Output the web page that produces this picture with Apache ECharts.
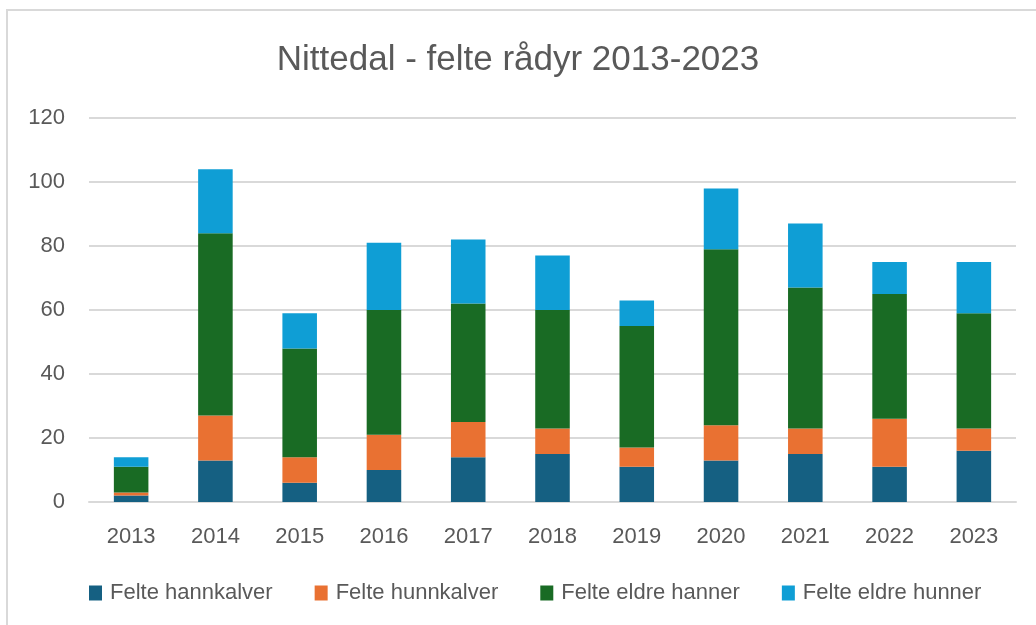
<!DOCTYPE html>
<html>
<head>
<meta charset="utf-8">
<script src="https://cdn.jsdelivr.net/npm/echarts@6/dist/echarts.min.js"></script>
<style>
  html, body { margin: 0; padding: 0; background: #fff; }
  #frame {
    position: absolute; left: 6px; top: 9px; width: 1040px; height: 630px;
    border-left: 2px solid #d9d9d9; border-top: 2px solid #d9d9d9;
  }
  #chart { position: absolute; left: 0; top: 0; width: 1036px; height: 625px; }
</style>
</head>
<body>
<div id="frame"></div>
<div id="chart"></div>
<script>
const years = ['2013', '2014', '2015', '2016', '2017', '2018', '2019', '2020', '2021', '2022', '2023']
const hannkalver = [2, 13, 6, 10, 14, 15, 11, 13, 15, 11, 16]
const hunnkalver = [1, 14, 8, 11, 11, 8, 6, 11, 8, 15, 7]
const eldreHanner = [8, 57, 34, 39, 37, 37, 38, 55, 44, 39, 36]
const eldreHunner = [3, 20, 11, 21, 20, 17, 8, 19, 20, 10, 16]

const textColor = '#595959'
const font = 'Liberation Sans'

const chart = echarts.init(document.getElementById('chart'))

function bar (name, data, color) {
  return {
    name,
    type: 'bar',
    stack: 'total',
    data,
    barWidth: '41%',
    itemStyle: { color },
    emphasis: { disabled: true }
  }
}

chart.setOption({
  animation: false,
  title: {
    text: 'Nittedal - felte rådyr 2013-2023',
    left: 'center',
    top: 38,
    textStyle: { color: textColor, fontFamily: font, fontSize: 35, fontWeight: 'normal' }
  },
  legend: {
    bottom: 16,
    left: 84,
    itemWidth: 13,
    itemHeight: 15,
    itemGap: 42,
    icon: 'rect',
    textStyle: { color: textColor, fontFamily: font, fontSize: 22, padding: [0, 0, 0, 3] }
  },
  grid: { left: 89, right: 20, top: 118, bottom: 123 },
  xAxis: {
    type: 'category',
    data: years,
    axisTick: { show: false },
    axisLine: { lineStyle: { color: '#d9d9d9', width: 2 } },
    axisLabel: { color: textColor, fontFamily: font, fontSize: 22, margin: 24 }
  },
  yAxis: {
    type: 'value',
    min: 0,
    max: 120,
    interval: 20,
    axisLabel: { color: textColor, fontFamily: font, fontSize: 22, margin: 24 },
    splitLine: { lineStyle: { color: '#d9d9d9', width: 2 } }
  },
  series: [
    bar('Felte hannkalver', hannkalver, '#156082'),
    bar('Felte hunnkalver', hunnkalver, '#e97132'),
    bar('Felte eldre hanner', eldreHanner, '#196b24'),
    bar('Felte eldre hunner', eldreHunner, '#0f9ed5')
  ]
})
</script>
</body>
</html>
